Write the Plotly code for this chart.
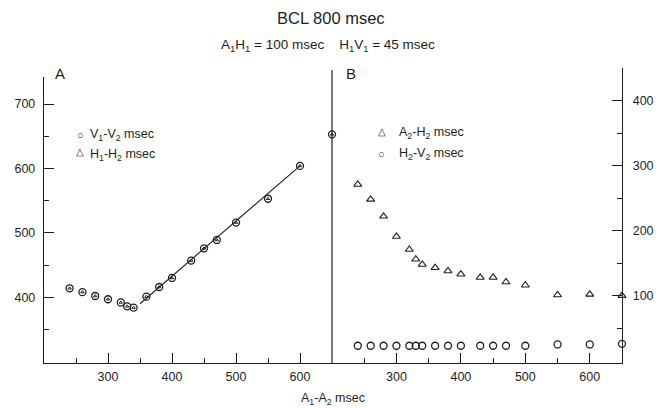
import plotly.graph_objects as go

W, H = 665, 409

# ---- data ----
a1a2 = [240, 260, 280, 300, 320, 330, 340, 360, 380, 400, 430, 450, 470, 500, 550, 600, 650]
v1v2 = [414, 408, 402, 397, 392, 386, 384, 401, 416, 430, 457, 476, 489, 516, 553, 604, 653]
h1h2 = [414, 408, 402, 397, 392, 386, 384, 401, 416, 430, 457, 476, 489, 516, 553, 604, 653]
a2h2 = [271, 248, 222, 191, 171, 156, 148, 143, 138, 133, 128, 128, 121, 116, 101, 102, 100]
h2v2 = [23, 23, 23, 23, 23, 23, 23, 23, 23, 23, 23, 23, 23, 23, 25, 25, 26]
fit_x = [350, 600]
fit_y = [390, 604]

x_major = [300, 400, 500, 600]
x_minor = [250, 350, 450, 550]
ya_major = [400, 500, 600, 700]
ya_minor = [350, 450, 550, 650]
yb_major = [100, 200, 300, 400]
yb_minor = [50, 150, 250, 350]

INK = "#1e1e1e"
FONT = "Liberation Sans, Arial, sans-serif"

def px(x):
    return x / W

def py(y):
    return 1 - y / H

fig = go.Figure()

mk_c = dict(symbol="circle-open", size=7, color=INK, line=dict(width=1.3, color=INK))
mk_t = dict(symbol="triangle-up-open", size=7, color=INK, line=dict(width=1.1, color=INK))

fig.add_trace(go.Scatter(x=fit_x, y=fit_y, mode="lines", line=dict(color=INK, width=1.1),
                         xaxis="x", yaxis="y", showlegend=False, cliponaxis=False))
fig.add_trace(go.Scatter(x=a1a2, y=v1v2, mode="markers", marker=mk_c, name="V1-V2 msec",
                         xaxis="x", yaxis="y", showlegend=False, cliponaxis=False))
fig.add_trace(go.Scatter(x=a1a2, y=h1h2, mode="markers",
                         marker=dict(symbol="triangle-up-open", size=3, color=INK, line=dict(width=1, color=INK)),
                         name="H1-H2 msec", xaxis="x", yaxis="y", showlegend=False, cliponaxis=False))
fig.add_trace(go.Scatter(x=a1a2, y=a2h2, mode="markers", marker=mk_t, name="A2-H2 msec",
                         xaxis="x2", yaxis="y2", showlegend=False, cliponaxis=False))
fig.add_trace(go.Scatter(x=a1a2, y=h2v2, mode="markers", marker=mk_c, name="H2-V2 msec",
                         xaxis="x2", yaxis="y2", showlegend=False, cliponaxis=False))

y_bot = py(363)
xA = [px(44), px(332)]
xB = [px(332), px(622)]

tickf = dict(family=FONT, size=12.5, color=INK)

common_x = dict(range=[200, 650], showline=True, linecolor=INK, linewidth=1.2,
                ticks="inside", tickvals=x_major, ticklen=10, tickwidth=1, tickcolor=INK,
                minor=dict(tickvals=x_minor, ticks="inside", ticklen=5, tickwidth=1, tickcolor=INK),
                showgrid=False, zeroline=False, fixedrange=True,
                tickfont=tickf, ticklabelstandoff=2)

fig.update_layout(
    width=W, height=H, margin=dict(l=0, r=0, t=0, b=0),
    paper_bgcolor="white", plot_bgcolor="white", showlegend=False,
    xaxis=dict(domain=xA, anchor="y", **common_x),
    yaxis=dict(domain=[y_bot, py(77)], range=[298, 742], anchor="x",
               showline=True, linecolor=INK, linewidth=1.2, ticks="inside",
               tickvals=ya_major, ticklen=10, tickcolor=INK,
               minor=dict(tickvals=ya_minor, ticks="inside", ticklen=5, tickcolor=INK),
               showgrid=False, zeroline=False, fixedrange=True,
               tickfont=tickf, ticklabelstandoff=5),
    xaxis2=dict(domain=xB, anchor="y2", **common_x),
    yaxis2=dict(domain=[y_bot, py(68)], range=[-3.5, 450], anchor="x2", side="right",
                showline=True, linecolor=INK, linewidth=1.2, ticks="inside",
                tickvals=yb_major, ticklen=10, tickcolor=INK,
                minor=dict(tickvals=yb_minor, ticks="inside", ticklen=5, tickcolor=INK),
                showgrid=False, zeroline=False, fixedrange=True,
                tickfont=tickf, ticklabelstandoff=7),
    shapes=[dict(type="line", xref="paper", yref="paper", x0=px(332), x1=px(332),
                 y0=y_bot, y1=py(70), line=dict(color=INK, width=1.2))],
)

def ann(text, x, y, size=12, xanchor="center"):
    fig.add_annotation(text=text, x=px(x), y=py(y), xref="paper", yref="paper",
                       showarrow=False, xanchor=xanchor, yanchor="middle",
                       font=dict(family=FONT, size=size, color=INK))

ann("BCL 800 msec", 331, 18, size=16.5)
ann("A<sub>1</sub>H<sub>1</sub> = 100 msec    H<sub>1</sub>V<sub>1</sub> = 45 msec", 328, 45, size=13.5)
ann("A", 53, 73, size=15, xanchor="left")
ann("B", 344, 73, size=15, xanchor="left")
ann("A<sub>1</sub>-A<sub>2</sub> msec", 333, 399, size=12.5)

# legends (text)
ann("○", 80, 135, size=11)
ann("V<sub>1</sub>-V<sub>2</sub> msec", 88, 135, size=12.5, xanchor="left")
ann("△", 80, 152, size=10)
ann("H<sub>1</sub>-H<sub>2</sub> msec", 88, 155, size=12.5, xanchor="left")
ann("△", 382, 132, size=10)
ann("A<sub>2</sub>-H<sub>2</sub> msec", 397, 133, size=12.5, xanchor="left")
ann("○", 382, 154, size=11)
ann("H<sub>2</sub>-V<sub>2</sub> msec", 397, 154, size=12.5, xanchor="left")

fig.write_html("out.html", config={"displayModeBar": False, "staticPlot": True},
               post_script="document.body.style.margin='0';document.body.style.overflow='hidden';")
